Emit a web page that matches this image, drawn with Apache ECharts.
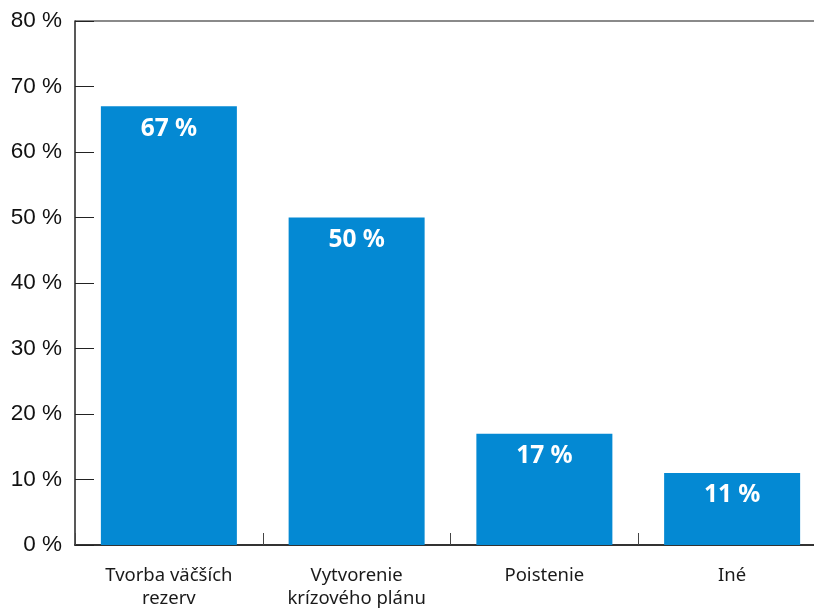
<!DOCTYPE html>
<html>
<head>
<meta charset="utf-8">
<script src="https://cdn.jsdelivr.net/npm/echarts@6/dist/echarts.min.js"></script>
<style>
  html, body { margin: 0; padding: 0; background: #fff; }
  #chart { width: 814px; height: 608px; }
</style>
</head>
<body>
<div id="chart"></div>
<script>
const categories = ["Tvorba väčších\nrezerv", "Vytvorenie\nkrízového plánu", "Poistenie", "Iné"]
const values = [67, 50, 17, 11]

const chart = echarts.init(document.getElementById("chart"))

// only the top grid line is visible in the reference
const splitColors = ["transparent", "transparent", "transparent", "transparent",
  "transparent", "transparent", "transparent", "transparent", "#8a8a8a"]

const option = {
  animation: false,
  grid: {
    left: 75,
    right: -12, // plot runs past the right edge of the picture
    top: 21,
    bottom: 63,
    outerBoundsMode: "none"
  },
  xAxis: {
    type: "category",
    data: categories,
    axisLine: { lineStyle: { color: "#333", width: 2 } },
    axisTick: {
      show: true,
      inside: true,
      length: 12,
      lineStyle: { color: "#444", width: 1 }
    },
    axisLabel: {
      color: "#1a1a1a",
      fontFamily: "Noto Sans",
      fontSize: 18.5,
      lineHeight: 23,
      margin: 19
    }
  },
  yAxis: {
    type: "value",
    min: 0,
    max: 80,
    interval: 10,
    axisLine: { show: true, lineStyle: { color: "#222", width: 1.5 } },
    axisTick: {
      show: true,
      inside: true,
      length: 19,
      lineStyle: { color: "#222", width: 1 }
    },
    axisLabel: {
      color: "#111",
      fontFamily: "Liberation Sans",
      fontSize: 22.5,
      margin: 13,
      formatter: "{value} %"
    },
    splitLine: {
      show: true,
      lineStyle: { color: splitColors, width: 2 }
    }
  },
  series: [
    {
      type: "bar",
      data: values,
      barWidth: 136,
      itemStyle: { color: "#0489d3" },
      label: {
        show: true,
        position: "insideTop",
        distance: 10,
        color: "#fff",
        fontFamily: "Noto Sans",
        fontWeight: "bold",
        fontSize: 24.5,
        formatter: "{c} %"
      }
    }
  ]
}

chart.setOption(option)
</script>
</body>
</html>
